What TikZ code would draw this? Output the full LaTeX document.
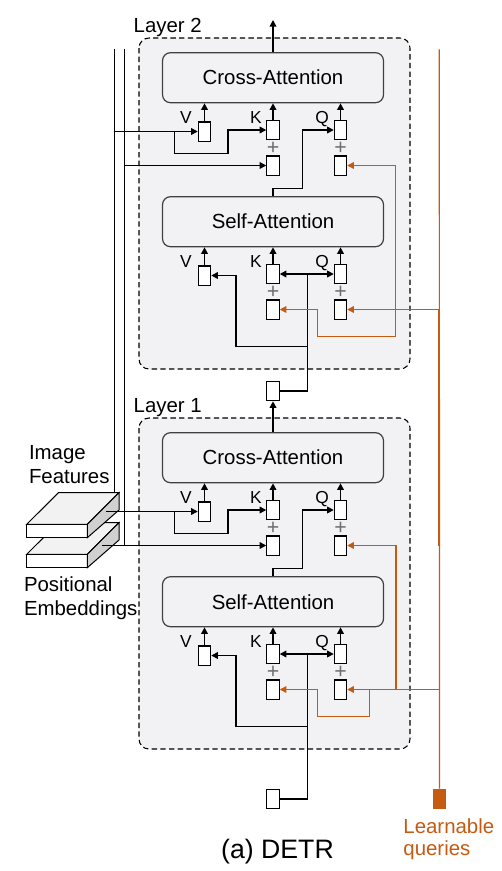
\documentclass[tikz,border=0pt]{standalone}
\usepackage{fontspec}
\setmainfont{Liberation Sans}
\usetikzlibrary{arrows.meta}
\definecolor{qorange}{RGB}{197,90,17}
\definecolor{boxgray}{RGB}{242,242,244}
\definecolor{edgegray}{RGB}{64,64,64}
\definecolor{topgray}{RGB}{242,242,242}
\definecolor{sidegray}{RGB}{208,208,208}
\definecolor{plusgray}{RGB}{110,110,110}
\tikzset{
  attn/.style={draw=edgegray,fill=boxgray,rounded corners=6pt,minimum width=165.75pt,minimum height=37.5pt,font=\fontsize{15.3}{18}\selectfont,line width=0.9pt},
  vec/.style={draw,fill=white,minimum width=9.3pt,minimum height=14.3pt,inner sep=0pt,line width=0.8pt},
  lbl/.style={font=\fontsize{13}{15}\selectfont,inner sep=0pt},
  txt/.style={font=\fontsize{15.3}{18}\selectfont,inner sep=0pt},
  plus/.style={text=plusgray,font=\fontsize{16}{16}\selectfont,inner sep=0pt},
  layer/.style={draw,dash pattern=on 4pt off 2.5pt,fill=boxgray,rounded corners=7.5pt,line width=0.8pt},
  qline/.style={draw=qorange,line width=0.9pt},
}
\begin{document}
\begin{tikzpicture}[x=0.75pt,y=-0.75pt,>={Triangle[length=5pt,width=5pt]},line width=1.1pt]
\useasboundingbox (0,0) rectangle (502,871);
% two decoder layers
\foreach \l/\dy in {2/0,1/380}{
  \draw[layer] (139,38+\dy) rectangle (410,369+\dy);
  \node[txt,anchor=base west] (lay\l) at (133,32.3+\dy) {Layer \l};
  \foreach \b/\by/\lab in {ca/0/Cross-Attention,sa/144/Self-Attention}{
    \node[attn] (\b\l) at (273,77.7+\by+\dy) {\lab};
    \node[vec] (\b\l v) at (204.5,131.5+\by+\dy) {};
    \node[vec] (\b\l k) at (273,130+\by+\dy) {};
    \node[vec] (\b\l kp) at (273,165.5+\by+\dy) {};
    \node[vec] (\b\l q) at (340.5,130+\by+\dy) {};
    \node[vec] (\b\l qp) at (340.5,165.5+\by+\dy) {};
    \node[lbl,anchor=base] (\b\l lv) at (186,123.3+\by+\dy) {V};
    \node[lbl,anchor=base] (\b\l lk) at (255.8,123.3+\by+\dy) {K};
    \node[lbl,anchor=base] (\b\l lq) at (322,123.3+\by+\dy) {Q};
    \node[plus] (\b\l pk) at (273,148.5+\by+\dy) {+};
    \node[plus] (\b\l pq) at (340.5,148.5+\by+\dy) {+};
    \foreach \i in {v,k,q}
      \draw[->] (\b\l\i.north) -- (\b\l\i.north |- \b\l.south);
  }
  % inputs of cross-attention
  \draw[->] (sa\l.north) |- (302.3,188.3+\dy) |- (ca\l q.west);
  \draw[->] (174.5,131.5+\dy) |- (228,153.7+\dy) |- (ca\l k.west);
  % inputs of self-attention
  \draw[<->] (sa\l k.east) -- (sa\l q.west);
  \coordinate (jn\l) at (307.3,274+\dy);
  \coordinate (br\l) at (307.3,346.7+\dy);
  \draw (jn\l) -- (br\l);
  \draw[->] (br\l) -| (236,275.5+\dy) -- (sa\l v.east);
}
\node[vec] (mid) at (273,391.2) {};
\node[vec] (inp) at (273,798.8) {};
\coordinate (top) at (273,20);
\draw[->] (ca2.north) -- (top);
\draw[->] (ca1.north) -- (mid.south);
\draw (mid.east) -| (br2);
\draw (inp.east) -| (br1);
% image features and positional embeddings
\foreach \s/\dy in {pos/30,img/0}{
  \filldraw[fill=white,line width=0.75pt] (26.7,524.3+\dy) rectangle (87.3,537.7+\dy);
  \filldraw[fill=topgray,line width=0.75pt] (26.7,524.3+\dy) -- (58.4,492.7+\dy) -- (119,492.7+\dy) -- (87.3,524.3+\dy) -- cycle;
  \filldraw[fill=sidegray,line width=0.75pt] (87.3,524.3+\dy) -- (119,492.7+\dy) -- (119,510+\dy) -- (87.3,537.7+\dy) -- cycle;
  \coordinate (\s top) at (119,492.7+\dy);
}
\coordinate (imgs) at (106,511.5);
\coordinate (poss) at (102,545.5);
\coordinate (busa) at (114.3,49.3);
\coordinate (busb) at (124.3,49.3);
\draw (busa) -- (busa |- imgtop);
\draw (busb) -- (busb |- ca1kp.west);
\draw[->] (ca2v.west -| busa) -- (ca2v.west);
\draw[->] (ca2kp.west -| busb) -- (ca2kp.west);
\draw[->] (imgs) -- (ca1v.west);
\draw[->] (poss) -- (ca1kp.west);
\node[txt,anchor=west,align=left] (feat) at (28.3,465) {Image\\Features};
\node[txt,anchor=west,align=left,font=\fontsize{15.3}{17.5}\selectfont] (pe) at (23.3,598.3) {Positional\\Embeddings};
% learnable queries
\coordinate (qtop) at (439.3,49.3);
\node[vec,fill=qorange,draw=qorange] (lq) at (439.5,798.8) {};
\draw[qline] (qtop) -- (lq.north);
\draw[qline,line width=1.5pt] (sa2qp.east -| qtop) -- (ca1qp.east -| qtop);
\coordinate (qj2) at (395.7,309.5);
\coordinate (qj1) at (396,689.5);
\draw[qline,->] (sa2qp.east -| qtop) -- (sa2qp.east);
\draw[qline,->] (qj2) |- (ca2qp.east);
\draw[qline,->] (qj2) |- (317.3,336.7) |- (sa2kp.east);
\draw[qline,->] (sa1qp.east -| qtop) -- (sa1qp.east);
\draw[qline,->] (qj1) |- (ca1qp.east);
\draw[qline,->] (369.3,689.5) |- (317.3,716.7) |- (sa1kp.east);
\node[txt,anchor=west,align=left,text=qorange,font=\fontsize{15.3}{16.2}\selectfont] (lqt) at (402.7,839.2) {Learnable\\queries};
\node[font=\fontsize{20}{24}\selectfont,anchor=base,inner sep=0pt] (cap) at (277.5,858.3) {(a) DETR};
\end{tikzpicture}
\end{document}
